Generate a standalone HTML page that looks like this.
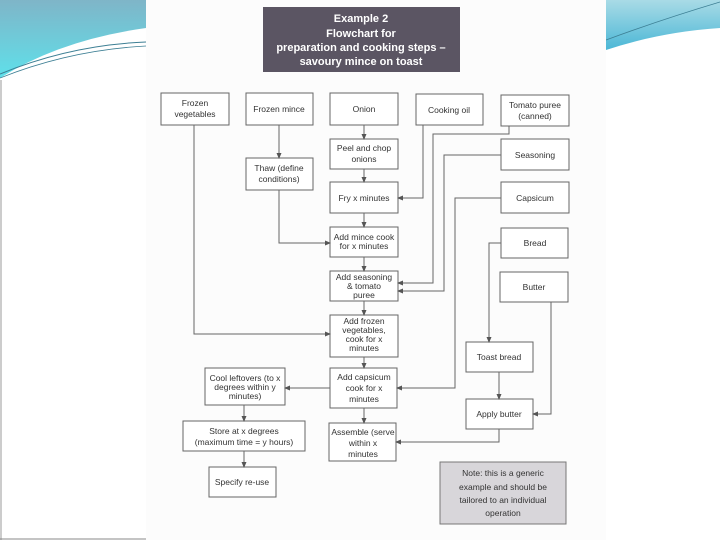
<!DOCTYPE html>
<html><head><meta charset="utf-8"><style>
html,body{margin:0;padding:0;width:720px;height:540px;overflow:hidden;background:#fff}
svg{display:block}
text{font-family:"Liberation Sans",sans-serif;font-size:8.5px;fill:#333;text-anchor:middle}
.t{font-weight:bold;fill:#fff;font-size:11px}
</style></head><body>
<svg width="720" height="540" viewBox="0 0 720 540">
<defs>
<linearGradient id="g1" x1="0" y1="0" x2="0" y2="1"><stop offset="0" stop-color="#7fb5c8"/><stop offset="1" stop-color="#5fe0ea"/></linearGradient>
<linearGradient id="g2" x1="0" y1="0" x2="0" y2="1"><stop offset="0" stop-color="#a9dbe6"/><stop offset="1" stop-color="#4bb7d6"/></linearGradient>
<marker id="a" markerWidth="6" markerHeight="6" refX="5" refY="3" orient="auto" markerUnits="userSpaceOnUse"><path d="M0,0.5 L6,3 L0,5.5z" fill="#555"/></marker>
</defs>
<rect x="0" y="0" width="720" height="540" fill="#fff"/>
<path d="M0,0 H146 V28 Q60,40 0,78 Z" fill="url(#g1)"/>
<path d="M0,74 Q70,45 146,42" stroke="#3d7f94" fill="none" stroke-width="1"/>
<path d="M0,78 Q70,50 146,46" stroke="#3d7f94" fill="none" stroke-width="0.8"/>
<path d="M606,0 H720 V28 Q660,32 606,50 Z" fill="url(#g2)"/>
<path d="M606,40 Q660,20 720,2" stroke="#3d7f94" fill="none" stroke-width="0.8"/>
<rect x="146" y="0" width="460" height="540" fill="#fcfcfc"/>
<line x1="1" y1="80" x2="1" y2="540" stroke="#999"/>
<line x1="0" y1="539" x2="146" y2="539" stroke="#888"/>
<rect x="263" y="7" width="197" height="65" fill="#5b5563"/>
<text class="t" x="361" y="22">Example 2</text>
<text class="t" x="361" y="37">Flowchart for</text>
<text class="t" x="361" y="51">preparation and cooking steps –</text>
<text class="t" x="361" y="65">savoury mince on toast</text>
<g fill="#fff" stroke="#666" stroke-width="1">
<rect x="161" y="93" width="68" height="32"/>
<rect x="246" y="93" width="67" height="32"/>
<rect x="330" y="93" width="68" height="32"/>
<rect x="416" y="94" width="67" height="31"/>
<rect x="501" y="95" width="68" height="31"/>
<rect x="330" y="139" width="68" height="30"/>
<rect x="246" y="158" width="67" height="32"/>
<rect x="501" y="139" width="68" height="31"/>
<rect x="330" y="182" width="68" height="31"/>
<rect x="501" y="182" width="68" height="31"/>
<rect x="330" y="227" width="68" height="30"/>
<rect x="501" y="228" width="67" height="30"/>
<rect x="330" y="271" width="68" height="30"/>
<rect x="500" y="272" width="68" height="30"/>
<rect x="330" y="315" width="68" height="42"/>
<rect x="466" y="342" width="67" height="30"/>
<rect x="205" y="368" width="80" height="37"/>
<rect x="330" y="368" width="67" height="40"/>
<rect x="466" y="399" width="67" height="30"/>
<rect x="183" y="421" width="122" height="30"/>
<rect x="329" y="423" width="67" height="38"/>
<rect x="209" y="467" width="67" height="30"/>
</g>
<rect x="440" y="462" width="126" height="62" fill="#d8d6da" stroke="#777"/>
<text x="195" y="106">Frozen</text><text x="195" y="117">vegetables</text>
<text x="279" y="112">Frozen mince</text>
<text x="364" y="112">Onion</text>
<text x="449" y="113">Cooking oil</text>
<text x="535" y="108">Tomato puree</text><text x="535" y="119">(canned)</text>
<text x="364" y="151">Peel and chop</text><text x="364" y="162">onions</text>
<text x="279" y="171">Thaw (define</text><text x="279" y="182">conditions)</text>
<text x="535" y="158">Seasoning</text>
<text x="364" y="201">Fry x minutes</text>
<text x="535" y="201">Capsicum</text>
<text x="364" y="240">Add mince cook</text><text x="364" y="249">for x minutes</text>
<text x="535" y="246">Bread</text>
<text x="364" y="280">Add seasoning</text><text x="364" y="289">&amp; tomato</text><text x="364" y="298">puree</text>
<text x="534" y="290">Butter</text>
<text x="364" y="324">Add frozen</text><text x="364" y="333">vegetables,</text><text x="364" y="342">cook for x</text><text x="364" y="351">minutes</text>
<text x="499" y="360">Toast bread</text>
<text x="245" y="381">Cool leftovers (to x</text><text x="245" y="390">degrees within y</text><text x="245" y="399">minutes)</text>
<text x="364" y="380">Add capsicum</text><text x="364" y="391">cook for x</text><text x="364" y="402">minutes</text>
<text x="499" y="417">Apply butter</text>
<text x="244" y="434">Store at x degrees</text><text x="244" y="445">(maximum time = y hours)</text>
<text x="363" y="435">Assemble (serve</text><text x="363" y="446">within x</text><text x="363" y="457">minutes</text>
<text x="242" y="485">Specify re-use</text>
<text x="503" y="476">Note: this is a generic</text><text x="503" y="490">example and should be</text><text x="503" y="503">tailored to an individual</text><text x="503" y="516">operation</text>
<g stroke="#666" stroke-width="1" fill="none" marker-end="url(#a)">
<path d="M194,125 V334 H330"/>
<path d="M279,125 V158"/>
<path d="M279,190 V243 H330"/>
<path d="M364,125 V139"/>
<path d="M364,169 V182"/>
<path d="M364,213 V227"/>
<path d="M364,257 V271"/>
<path d="M364,301 V315"/>
<path d="M364,357 V368"/>
<path d="M364,408 V423"/>
<path d="M423,125 V198 H398"/>
<path d="M509,126 V134 H433 V283 H398"/>
<path d="M501,155 H444 V291 H398"/>
<path d="M501,198 H455 V388 H397"/>
<path d="M501,243 H489 V342"/>
<path d="M551,302 V414 H533"/>
<path d="M499,372 V399"/>
<path d="M499,429 V442 H396"/>
<path d="M330,388 H285"/>
<path d="M244,405 V421"/>
<path d="M244,451 V467"/>
</g>
</svg>
</body></html>
